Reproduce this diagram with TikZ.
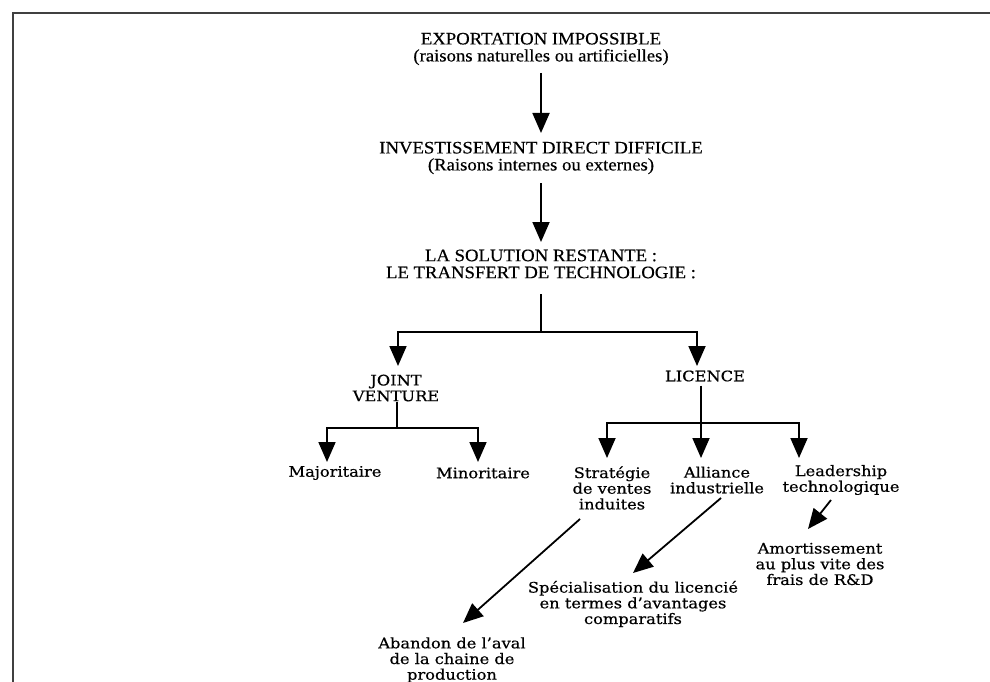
\documentclass[tikz,border=0pt]{standalone}
\usepackage{fontspec}
\setmainfont{DejaVu Serif}[FakeStretch=1.12,FakeBold=0.5]
\newfontfamily\capfont{Liberation Serif}[FakeStretch=1.07,FakeBold=0.4]
\usetikzlibrary{arrows.meta}
\begin{document}
\begin{tikzpicture}[x=1pt,y=-1pt,
  arr/.style={line width=1.8pt,-{Triangle[width=17pt,length=20pt]}},
  ln/.style={line width=1.8pt},
  toptext/.style={inner sep=0pt,align=center,font=\capfont\fontsize{17.5}{17}\selectfont},
  lowtext/.style={inner sep=0pt,align=center,font=\fontsize{14.5}{15.7}\selectfont}]
\useasboundingbox (0,0) rectangle (990,682);
\fill[white] (0,0) rectangle (990,682);
\draw[line width=2pt,black!75] (13,700) -- (13,13) -- (1000,13);

% top chain
\node[toptext] (n1) at (541,49) {EXPORTATION IMPOSSIBLE\\(raisons naturelles ou artificielles)};
\node[toptext] (n2) at (541,158) {INVESTISSEMENT DIRECT DIFFICILE\\(Raisons internes ou externes)};
\node[toptext] (n3) at (541,264) {LA SOLUTION RESTANTE :\\LE TRANSFERT DE TECHNOLOGIE :};

\draw[arr] (n1.south |- 0,73) -- (n2.north |- 0,133);
\draw[arr] (n2.south |- 0,183) -- (n3.north |- 0,242);

% level 2
\node[lowtext] (jv) at (396,388) {JOINT\\VENTURE};
\node[lowtext] (lic) at (705,376) {LICENCE};
\coordinate (hub) at (541,332);
\coordinate (jvA) at (398,366);
\coordinate (licA) at (697,366);
\draw[ln] (n3.south |- 0,294) -- (hub);
\draw[arr] (hub) -| (jvA);
\draw[arr] (hub) -| (licA);

% joint venture branch
\node[lowtext] (maj) at (335,473) {Majoritaire};
\node[lowtext] (min) at (483,473) {Minoritaire};
\coordinate (jvhub) at (397,428);
\coordinate (majA) at (327,462);
\coordinate (minA) at (478,462);
\draw[ln] (jv.south -| jvhub) -- (jvhub);
\draw[arr] (jvhub) -| (majA);
\draw[arr] (jvhub) -| (minA);

% licence branch
\node[lowtext] (strat) at (612,488) {Stratégie\\de ventes\\induites};
\node[lowtext] (alli) at (717,480) {Alliance\\industrielle};
\node[lowtext] (lead) at (841,480) {Leadership\\technologique};
\coordinate (lichub) at (701,423);
\coordinate (stratA) at (607,458);
\coordinate (alliA) at (701,458);
\coordinate (leadA) at (799,458);
\draw[ln] (lic.south -| lichub) ++(0,4) -- (lichub);
\draw[arr] (lichub) -| (stratA);
\draw[arr] (lichub) -- (alliA);
\draw[arr] (lichub) -| (leadA);

% outcomes
\node[lowtext] (aband) at (452,660) {Abandon de l'aval\\de la chaine de\\production};
\node[lowtext] (spec) at (633,604) {Spécialisation du licencié\\en termes d'avantages\\comparatifs};
\node[lowtext] (amort) at (820,564) {Amortissement\\au plus vite des\\frais de R\&D};
\coordinate (s1) at (580,519);
\coordinate (s2) at (463,623);
\coordinate (a1) at (721,498);
\coordinate (a2) at (633,573);
\coordinate (l1) at (831,500);
\coordinate (l2) at (808,529);
\draw[arr] (s1) -- (s2);
\draw[arr] (a1) -- (a2);
\draw[arr] (l1) -- (l2);
\end{tikzpicture}
\end{document}
